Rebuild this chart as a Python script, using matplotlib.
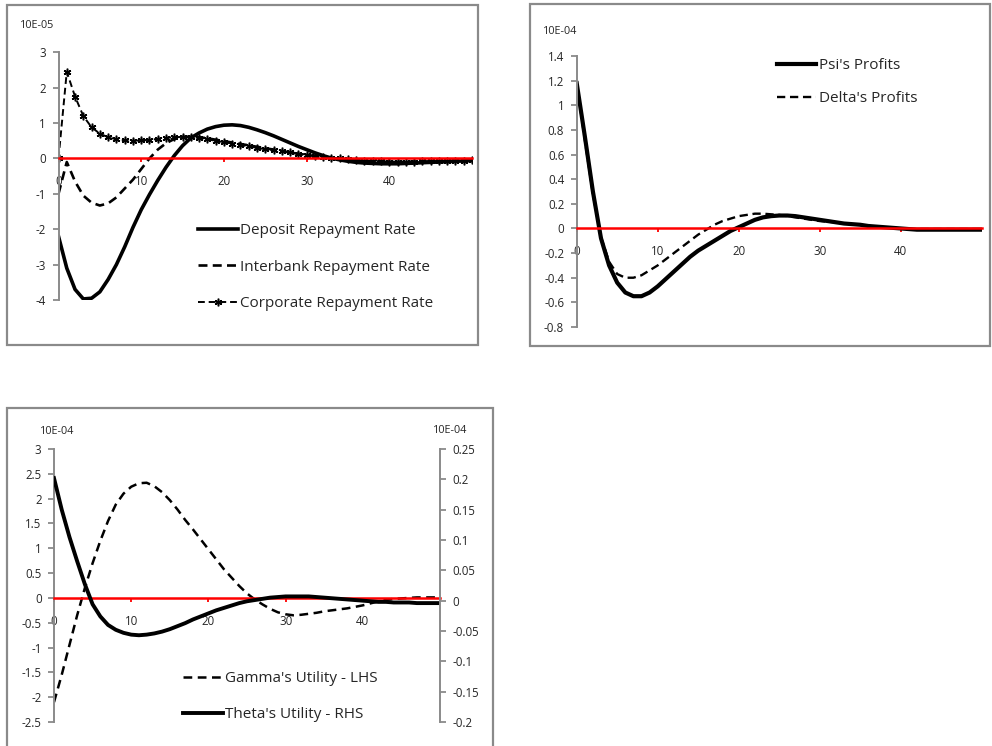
import numpy as np
import matplotlib
matplotlib.use("Agg")
import matplotlib.pyplot as plt
from matplotlib.patches import Rectangle

# periods 0..50
deposit = [-2.2, -3.1, -3.7, -3.97, -3.95, -3.77, -3.42, -3.0, -2.5, -1.95,
           -1.45, -1.02, -0.62, -0.25, 0.08, 0.36, 0.58, 0.72, 0.83, 0.9,
           0.94, 0.95, 0.93, 0.88, 0.81, 0.73, 0.64, 0.54, 0.44, 0.34,
           0.25, 0.16, 0.08, 0.01, -0.04, -0.08, -0.11, -0.13, -0.14, -0.15,
           -0.15, -0.15, -0.14, -0.13, -0.12, -0.11, -0.1, -0.09, -0.08, -0.07, -0.06]
interbank = [-1.0, -0.1, -0.65, -1.05, -1.25, -1.33, -1.27, -1.1, -0.85, -0.6,
             -0.3, 0.0, 0.25, 0.43, 0.55, 0.61, 0.62, 0.6, 0.57, 0.53,
             0.49, 0.45, 0.41, 0.37, 0.33, 0.29, 0.25, 0.21, 0.17, 0.13,
             0.1, 0.07, 0.04, 0.01, -0.01, -0.03, -0.05, -0.07, -0.08, -0.09,
             -0.1, -0.1, -0.1, -0.09, -0.09, -0.08, -0.08, -0.07, -0.07, -0.06, -0.06]
corporate = [0.0, 2.45, 1.75, 1.2, 0.88, 0.7, 0.6, 0.54, 0.51, 0.5,
             0.51, 0.53, 0.55, 0.58, 0.6, 0.61, 0.6, 0.57, 0.54, 0.5,
             0.46, 0.42, 0.38, 0.34, 0.3, 0.26, 0.23, 0.2, 0.17, 0.14,
             0.11, 0.08, 0.05, 0.02, 0.0, -0.02, -0.04, -0.06, -0.07, -0.08,
             -0.09, -0.09, -0.09, -0.09, -0.08, -0.08, -0.07, -0.07, -0.06, -0.06, -0.05]

psi = [1.18, 0.75, 0.3, -0.08, -0.3, -0.44, -0.52, -0.55, -0.55, -0.52,
       -0.47, -0.41, -0.35, -0.29, -0.23, -0.18, -0.14, -0.1, -0.06, -0.02,
       0.01, 0.04, 0.07, 0.09, 0.1, 0.105, 0.105, 0.1, 0.09, 0.08,
       0.07, 0.06, 0.05, 0.04, 0.035, 0.03, 0.02, 0.015, 0.01, 0.005,
       0.0, -0.005, -0.01, -0.01, -0.01, -0.01, -0.01, -0.01, -0.01, -0.01, -0.01]
delta = [1.18, 0.72, 0.28, -0.07, -0.27, -0.37, -0.4, -0.4, -0.38, -0.34,
         -0.3, -0.25, -0.2, -0.15, -0.1, -0.05, -0.01, 0.03, 0.06, 0.08,
         0.1, 0.11, 0.12, 0.12, 0.115, 0.11, 0.1, 0.09, 0.08, 0.07,
         0.06, 0.055, 0.05, 0.04, 0.035, 0.03, 0.02, 0.015, 0.01, 0.005,
         0.0, -0.005, -0.005, -0.005, -0.005, -0.005, -0.005, -0.005, -0.005, -0.005, -0.005]

gamma = [-2.1, -1.55, -0.95, -0.35, 0.2, 0.7, 1.15, 1.55, 1.88, 2.1,
         2.24, 2.31, 2.32, 2.25, 2.13, 1.97, 1.78, 1.57, 1.38, 1.18,
         0.98, 0.78, 0.58, 0.41, 0.24, 0.09, -0.03, -0.13, -0.22, -0.29,
         -0.33, -0.35, -0.34, -0.32, -0.3, -0.27, -0.25, -0.23, -0.21, -0.18,
         -0.15, -0.11, -0.07, -0.04, -0.02, -0.01, 0.0, 0.01, 0.01, 0.01, 0.01]
theta = [0.202, 0.15, 0.105, 0.065, 0.027, -0.006, -0.026, -0.04, -0.048, -0.053,
         -0.056, -0.057, -0.056, -0.054, -0.051, -0.047, -0.042, -0.037, -0.031, -0.026,
         -0.021, -0.016, -0.012, -0.008, -0.004, -0.001, 0.001, 0.003, 0.005, 0.006,
         0.007, 0.007, 0.007, 0.007, 0.006, 0.005, 0.004, 0.003, 0.002, 0.001,
         0.0, -0.001, -0.002, -0.002, -0.003, -0.003, -0.003, -0.004, -0.004, -0.004, -0.004]

x_ticks = [0, 10, 20, 30, 40]
x_labels = ["0", "10", "20", "30", "40"]
y1_ticks = [-4, -3, -2, -1, 0, 1, 2, 3]
y1_labels = ["-4", "-3", "-2", "-1", "0", "1", "2", "3"]
y2_ticks = [-0.8, -0.6, -0.4, -0.2, 0, 0.2, 0.4, 0.6, 0.8, 1.0, 1.2, 1.4]
y2_labels = ["-0.8", "-0.6", "-0.4", "-0.2", "0", "0.2", "0.4", "0.6", "0.8", "1", "1.2", "1.4"]
y3_ticks = [-2.5, -2, -1.5, -1, -0.5, 0, 0.5, 1, 1.5, 2, 2.5, 3]
y3_labels = ["-2.5", "-2", "-1.5", "-1", "-0.5", "0", "0.5", "1", "1.5", "2", "2.5", "3"]
y3r_ticks = [-0.2, -0.15, -0.1, -0.05, 0, 0.05, 0.1, 0.15, 0.2, 0.25]
y3r_labels = ["-0.2", "-0.15", "-0.1", "-0.05", "0", "0.05", "0.1", "0.15", "0.2", "0.25"]

plt.rcParams['font.family'] = ['Open Sans', 'DejaVu Sans']
W, H = 992, 746
GRAY = '#8a8a8a'
TXT = '#262626'
TICK_FS = 8.3

fig = plt.figure(figsize=(W / 100, H / 100), dpi=100)
fig.patch.set_facecolor('white')


def rect(x0, x1, ytop, ybot):
    return [x0 / W, 1 - ybot / H, (x1 - x0) / W, (ybot - ytop) / H]


def frame(x0, y0, x1, y1):
    fig.patches.append(Rectangle((x0 / W, 1 - y1 / H), (x1 - x0) / W, (y1 - y0) / H,
                                 transform=fig.transFigure, fill=False,
                                 edgecolor=GRAY, linewidth=1.6))


def style(ax, yt, yl, ylim):
    ax.set_xlim(0, 50)
    ax.set_ylim(*ylim)
    ax.patch.set_visible(False)
    for s in ['top', 'right']:
        ax.spines[s].set_visible(False)
    ax.spines['left'].set_color(GRAY)
    ax.spines['left'].set_linewidth(1.4)
    ax.spines['bottom'].set_position(('data', 0))
    ax.spines['bottom'].set_color('red')
    ax.spines['bottom'].set_linewidth(1.8)
    ax.set_xticks(x_ticks)
    ax.set_xticklabels(x_labels)
    ax.set_yticks(yt)
    ax.set_yticklabels(yl)
    ax.tick_params(axis='x', color='red', labelcolor=TXT, length=3, width=1.3,
                   pad=9, labelsize=TICK_FS)
    ax.tick_params(axis='y', color=GRAY, labelcolor=TXT, length=4, width=1.3,
                   pad=5, labelsize=TICK_FS)


def legend(ax, handles, x, y, spacing):
    ax.legend(handles=handles, loc='upper left', bbox_to_anchor=(x / W, 1 - y / H),
              bbox_transform=fig.transFigure, frameon=False, borderpad=0,
              borderaxespad=0, handlelength=2.6, handletextpad=0.15,
              labelspacing=spacing, fontsize=11, labelcolor=TXT)


t = np.arange(len(deposit))

# panel 1
frame(7, 5, 478, 345)
ax1 = fig.add_axes(rect(58.5, 472, 52.3, 300))
style(ax1, y1_ticks, y1_labels, (-4, 3))
l1, = ax1.plot(t, deposit, color='black', lw=2.6, label='Deposit Repayment Rate')
l2, = ax1.plot(t, interbank, color='black', lw=1.9, dashes=(3.4, 2.0),
               label='Interbank Repayment Rate')
l3, = ax1.plot(t, corporate, color='black', lw=1.4, dashes=(3.5, 2.0),
               marker=(6, 2, 0), markersize=5.5, markeredgewidth=1.1,
               label='Corporate Repayment Rate')
legend(ax1, [l1, l2, l3], 198, 223, 1.41)
fig.text(20 / W, 1 - 26 / H, '10E-05', fontsize=7.8, color=TXT, va='center')

# panel 2
frame(530, 4, 990, 345.7)
ax2 = fig.add_axes(rect(576.7, 981.7, 56, 327))
style(ax2, y2_ticks, y2_labels, (-0.8, 1.4))
p1, = ax2.plot(t, psi, color='black', lw=3.0, label="Psi's Profits")
p2, = ax2.plot(t, delta, color='black', lw=1.7, dashes=(3.5, 2.0),
               label="Delta's Profits")
legend(ax2, [p1, p2], 776.7, 58, 1.18)
fig.text(543 / W, 1 - 32 / H, '10E-04', fontsize=7.8, color=TXT, va='center')

# panel 3
frame(7, 408, 492.7, 760)
ax3 = fig.add_axes(rect(54, 440, 449, 722))
style(ax3, y3_ticks, y3_labels, (-2.5, 3))
ax3r = ax3.twinx()
ax3r.set_ylim(-0.2, 0.25)
ax3r.patch.set_visible(False)
for s in ['top', 'left', 'bottom']:
    ax3r.spines[s].set_visible(False)
ax3r.spines['right'].set_color(GRAY)
ax3r.spines['right'].set_linewidth(1.4)
ax3r.set_yticks(y3r_ticks)
ax3r.set_yticklabels(y3r_labels)
ax3r.tick_params(axis='y', color=GRAY, labelcolor=TXT, length=4, width=1.3,
                 pad=5, labelsize=TICK_FS)
g1, = ax3.plot(t, gamma, color='black', lw=1.8, dashes=(3.5, 2.2),
               label="Gamma's Utility - LHS")
g2, = ax3r.plot(t, theta, color='black', lw=2.8, label="Theta's Utility - RHS")
legend(ax3r, [g1, g2], 183, 671, 1.37)
fig.text(40 / W, 1 - 431 / H, '10E-04', fontsize=7.8, color=TXT, va='center')
fig.text(433 / W, 1 - 430 / H, '10E-04', fontsize=7.8, color=TXT, va='center')

fig.savefig('out.png', dpi=100, facecolor='white')
